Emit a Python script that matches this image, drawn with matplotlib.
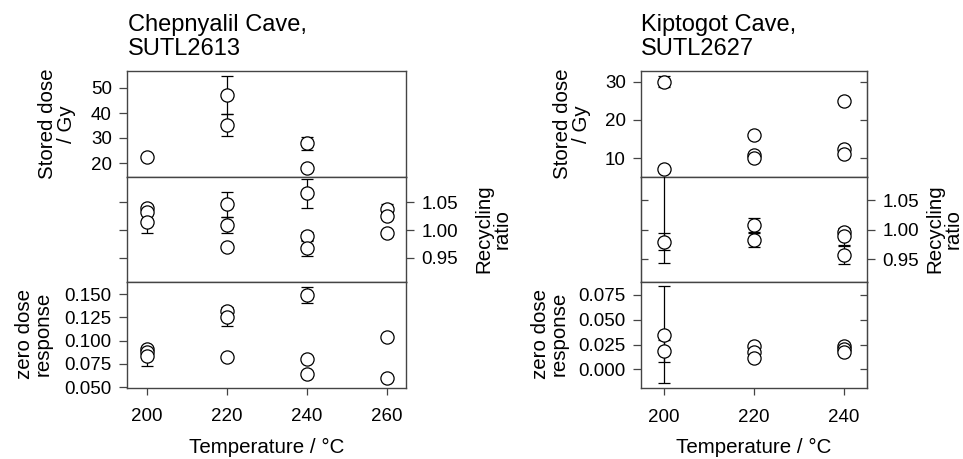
import matplotlib
matplotlib.use("Agg")
import matplotlib.pyplot as plt

plt.rcParams['font.family'] = ['Liberation Sans', 'DejaVu Sans']

# Chepnyalil Cave, SUTL2613
left_dose_temp = [200, 220, 220, 240, 240]
left_dose = [22.4, 47.3, 35.2, 27.9, 17.9]
left_dose_err = [0.5, 7.7, 4.4, 2.6, 0.5]

left_rr_temp = [200, 200, 200, 220, 220, 220, 240, 240, 240, 260, 260, 260]
left_rr = [1.039, 1.033, 1.015, 1.046, 1.009, 0.970, 1.066, 0.989, 0.968, 1.038, 1.025, 0.995]
left_rr_err = [0.005, 0.005, 0.021, 0.022, 0.014, 0.005, 0.026, 0.008, 0.014, 0.008, 0.005, 0.005]

left_zd_temp = [200, 200, 200, 220, 220, 220, 240, 240, 240, 260, 260]
left_zd = [0.091, 0.0875, 0.083, 0.132, 0.1257, 0.082, 0.149, 0.0805, 0.0637, 0.104, 0.060]
left_zd_err = [0.002, 0.003, 0.010, 0.002, 0.010, 0.001, 0.009, 0.001, 0.001, 0.001, 0.001]

# Kiptogot Cave, SUTL2627
right_dose_temp = [200, 200, 220, 220, 220, 240, 240, 240]
right_dose = [30.0, 7.2, 16.1, 10.8, 10.0, 25.0, 12.5, 11.1]
right_dose_err = [1.5, 0.3, 0.3, 0.3, 0.3, 0.3, 0.3, 0.3]

right_rr_temp = [200, 200, 220, 220, 240, 240, 240]
right_rr = [1.12, 0.980, 1.0085, 0.983, 0.996, 0.9886, 0.957]
right_rr_err = [0.176, 0.015, 0.012, 0.012, 0.006, 0.014, 0.016]

right_zd_temp = [200, 200, 220, 220, 220, 240, 240, 240]
right_zd = [0.035, 0.0184, 0.024, 0.0177, 0.011, 0.024, 0.021, 0.018]
right_zd_err = [0.049, 0.011, 0.001, 0.001, 0.001, 0.001, 0.001, 0.001]

W, H = 963, 459
fig = plt.figure(figsize=(W / 100, H / 100), dpi=100)

TICK_FS = 13.5
LABEL_FS = 14.8
TITLE_FS = 17
EDGE = '#444444'


def px_axes(x0, x1, y0, y1):
    return fig.add_axes([x0 / W, 1 - y1 / H, (x1 - x0) / W, (y1 - y0) / H])


def points(ax, x, y, err):
    ax.errorbar(x, y, yerr=err, fmt='o', ms=9.5, mfc='white', mec='black',
                mew=0.9, ecolor='black', elinewidth=0.9, capsize=4, capthick=0.9,
                zorder=3)


def style(ax, xlim, ylim, yticks, xticks, ylabels_right=False, bottom=False, fmt=None):
    ax.set_xlim(*xlim)
    ax.set_ylim(*ylim)
    ax.set_xticks(xticks)
    ax.set_yticks(yticks)
    if fmt:
        ax.set_yticklabels([fmt.format(v) for v in yticks])
    for s in ax.spines.values():
        s.set_color(EDGE)
        s.set_linewidth(1.0)
    ax.tick_params(axis='x', direction='out', length=5, width=0.9, color=EDGE,
                   labelsize=TICK_FS, pad=10, labelbottom=bottom)
    if ylabels_right:
        ax.tick_params(axis='y', which='both', direction='out', length=6, width=0.9,
                       color=EDGE, labelsize=TICK_FS, pad=5, left=True, right=True,
                       labelleft=False, labelright=True)
    else:
        ax.tick_params(axis='y', direction='out', length=6, width=0.9, color=EDGE,
                       labelsize=TICK_FS, pad=5, left=True, labelleft=True)


def inner_ticks(ax, side):
    # second set of y ticks pointing into the panel on the unlabelled side
    sec = ax.secondary_yaxis(side)
    sec.set_yticks(ax.get_yticks())
    sec.tick_params(direction='in', length=5, width=0.9, color=EDGE,
                    labelleft=False, labelright=False)
    sec.spines[side].set_color(EDGE)


# left column
lx0, lx1 = 127, 406
ax = px_axes(lx0, lx1, 71, 177)
points(ax, left_dose_temp, left_dose, left_dose_err)
style(ax, (195, 264.8), (14.4, 56.8), [20, 30, 40, 50], [200, 220, 240, 260])

ax = px_axes(lx0, lx1, 177, 282)
points(ax, left_rr_temp, left_rr, left_rr_err)
style(ax, (195, 264.8), (0.907, 1.095), [0.95, 1.00, 1.05], [200, 220, 240, 260],
      ylabels_right=True, fmt='{:.2f}')

ax = px_axes(lx0, lx1, 282, 387.5)
points(ax, left_zd_temp, left_zd, left_zd_err)
style(ax, (195, 264.8), (0.0497, 0.163), [0.050, 0.075, 0.100, 0.125, 0.150],
      [200, 220, 240, 260], bottom=True, fmt='{:.3f}')
ax.set_xlabel('Temperature / \u00b0C', fontsize=LABEL_FS, labelpad=9)

# right column
rx0, rx1 = 641, 867
ax = px_axes(rx0, rx1, 71, 177)
points(ax, right_dose_temp, right_dose, right_dose_err)
style(ax, (195, 245.1), (5.1, 32.8), [10, 20, 30], [200, 220, 240])
inner_ticks(ax, 'right')

ax = px_axes(rx0, rx1, 177, 282)
points(ax, right_rr_temp, right_rr, right_rr_err)
style(ax, (195, 245.1), (0.911, 1.090), [0.95, 1.00, 1.05], [200, 220, 240],
      ylabels_right=True, fmt='{:.2f}')
ax.tick_params(axis='y', left=False)
inner_ticks(ax, 'left')

ax = px_axes(rx0, rx1, 282, 388)
points(ax, right_zd_temp, right_zd, right_zd_err)
style(ax, (195, 245.1), (-0.0188, 0.0881), [0.000, 0.025, 0.050, 0.075],
      [200, 220, 240], bottom=True, fmt='{:.3f}')
inner_ticks(ax, 'right')
ax.set_xlabel('Temperature / \u00b0C', fontsize=LABEL_FS, labelpad=9)

# titles and y labels
fig.text(128 / W, 1 - 14 / H, 'Chepnyalil Cave,\nSUTL2613', fontsize=TITLE_FS,
         ha='left', va='top', linespacing=1.12)
fig.text(641 / W, 1 - 14 / H, 'Kiptogot Cave,\nSUTL2627', fontsize=TITLE_FS,
         ha='left', va='top', linespacing=1.12)

ylabels = [
    (57, 124, 'Stored dose\n/ Gy'),
    (493, 229, 'Recycling\nratio'),
    (34, 334, 'zero dose\nresponse'),
    (572, 124, 'Stored dose\n/ Gy'),
    (944, 229, 'Recycling\nratio'),
    (550, 334, 'zero dose\nresponse'),
]
for x, y, txt in ylabels:
    fig.text(x / W, 1 - y / H, txt, fontsize=LABEL_FS, rotation=90,
             ha='center', va='center', linespacing=1.0)

fig.savefig('out.png', dpi=100)
